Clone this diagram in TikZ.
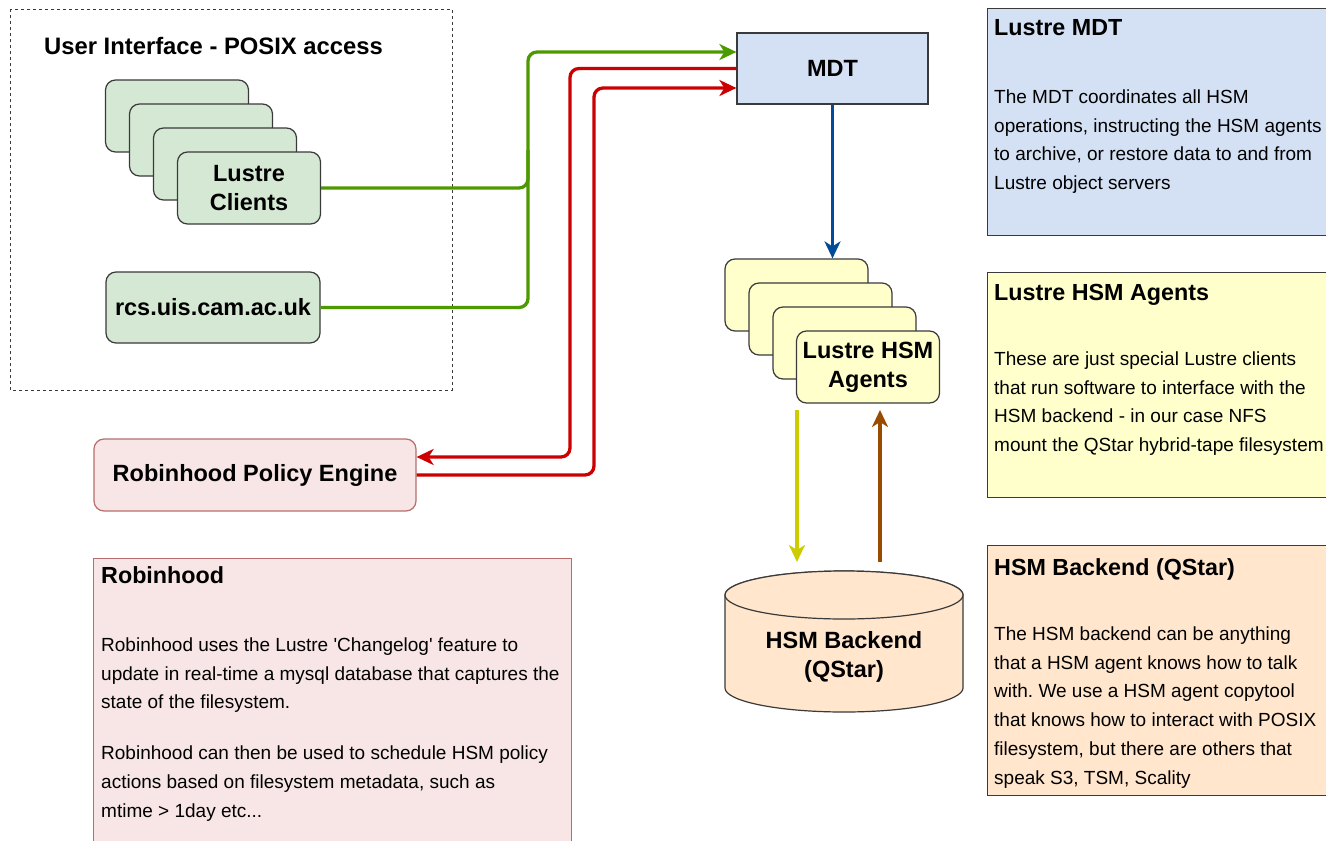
\documentclass[tikz,border=0pt]{standalone}
\usepackage{fontspec}
\setmainfont{Liberation Sans}
\usetikzlibrary{arrows.meta}
\definecolor{greenline}{HTML}{4D9900}
\definecolor{redline}{HTML}{CC0000}
\definecolor{blueline}{HTML}{004C99}
\definecolor{yellowline}{HTML}{CCCC00}
\definecolor{brownline}{HTML}{994C00}
\definecolor{greenfill}{HTML}{D5E8D4}
\definecolor{mdtfill}{HTML}{D4E1F5}
\definecolor{yellowfill}{HTML}{FFFFCC}
\definecolor{peachfill}{HTML}{FFE6CC}
\definecolor{pinkfill}{HTML}{F8E6E6}
\definecolor{pinkline}{HTML}{B86E6E}
\definecolor{edge}{HTML}{3A3A3A}
\newcommand\mybody{\fontsize{19}{28.8}\selectfont}
\newcommand\mybold{\fontsize{23.5}{29}\selectfont\bfseries}
\newcommand\myhead{\fontsize{23.3}{28}\selectfont\bfseries}
\newcommand\mytitle{\fontsize{23.8}{28}\selectfont\bfseries}
\frenchspacing
\begin{document}
\frenchspacing
\begin{tikzpicture}[x=1pt,y=-1pt,
  card/.style={draw=edge, line width=1.2pt, rounded corners=10pt, minimum width=143pt, minimum height=72pt, inner sep=0pt, align=center, font=\mybold},
  gcard/.style={card, fill=greenfill},
  ycard/.style={card, fill=yellowfill},
  pcard/.style={card, fill=pinkfill, draw=pinkline},
  desc/.style={draw=edge, line width=1.2pt, anchor=north west, minimum width=345pt, inner sep=0pt},
  head/.style={font=\myhead, anchor=base west, inner sep=0pt},
  body/.style={font=\mybody, anchor=north west, align=left, inner sep=0pt},
  conn/.style={draw=#1, line width=3.3pt, rounded corners=9pt},
  tip/.style={-{Stealth[length=17pt,width=16pt,inset=5pt]}},
]
\useasboundingbox (0,0) rectangle (1326,841);
\fill[white] (0,0) rectangle (1326,841);

% user interface group
\draw[edge, line width=1pt, dash pattern=on 3pt off 3pt] (10,9) rectangle (452,390);
\node[head, font=\mytitle] (uititle) at (44,54) {User Interface - POSIX access};

\node[gcard] (c1) at (177,116) {};
\node[gcard] (c2) at (201,140) {};
\node[gcard] (c3) at (225,164) {};
\node[gcard] (clients) at (249,188) {Lustre\\Clients};
\node[gcard, minimum width=214pt, minimum height=71pt] (rcs) at (213,307.5) {rcs.uis.cam.ac.uk};

% MDT
\node[draw=edge, fill=mdtfill, line width=1.2pt, minimum width=191pt, minimum height=71pt, font=\mybold] (mdt) at (832.5,68.5) {MDT};

% agents
\node[ycard] (a1) at (796.5,295) {};
\node[ycard] (a2) at (820.5,319) {};
\node[ycard] (a3) at (844.5,343) {};
\node[ycard] (agents) at (868,367) {Lustre HSM\\Agents};

% policy engine
\node[pcard, minimum width=322pt, minimum height=72pt] (policy) at (255,475) {Robinhood Policy Engine};

% backend cylinder
\draw[draw=edge, fill=peachfill, line width=1.2pt] (725,595) -- (725,688) arc[start angle=180, end angle=0, x radius=119, y radius=24] -- (963,595) arc[start angle=0, end angle=-180, x radius=119, y radius=24] -- cycle;
\draw[draw=edge, fill=peachfill, line width=1.2pt] (844,595) ellipse[x radius=119, y radius=24];
\node[font=\mybold, align=center] (backend) at (844,657) {HSM Backend\\(QStar)};
\coordinate (ytop) at (797,410);
\coordinate (ybot) at (797,562);
\coordinate (btop) at (880,410);
\coordinate (bbot) at (880,562);
\coordinate (gjoin) at (528,188);
\coordinate (gmid) at (528,150);
\coordinate (gtop) at (528,52);
\coordinate (r1) at (570,457);
\coordinate (r2) at (594,88);

% description boxes
\node[desc, fill=mdtfill, minimum height=227pt] (mdtdesc) at (987,8) {};
\node[head] (mdthead) at (994,35) {Lustre MDT};
\node[body] (mdtbody) at (994,83) {\rule{0pt}{20pt}The MDT coordinates all HSM\\operations, instructing the HSM agents\\to archive, or restore data to and from\\Lustre object servers};

\node[desc, fill=yellowfill, minimum height=225pt] (agdesc) at (987,272) {};
\node[head] (aghead) at (994,300) {Lustre HSM Agents};
\node[body] (agbody) at (994,345) {\rule{0pt}{20pt}These are just special Lustre clients\\that run software to interface with the\\HSM backend - in our case NFS\\mount the QStar hybrid-tape filesystem};

\node[desc, fill=peachfill, minimum height=250pt] (bkdesc) at (987,545) {};
\node[head] (bkhead) at (994,575) {HSM Backend (QStar)};
\node[body] (bkbody) at (994,620) {\rule{0pt}{20pt}The HSM backend can be anything\\that a HSM agent knows how to talk\\with. We use a HSM agent copytool\\that knows how to interact with POSIX\\filesystem, but there are others that\\speak S3, TSM, Scality};

\node[desc, fill=pinkfill, draw=pinkline, minimum width=478pt, minimum height=300pt] (rhdesc) at (93,558) {};
\node[head] (rhhead) at (101,583) {Robinhood};
\node[body] (rhbody) at (101,631) {\rule{0pt}{20pt}Robinhood uses the Lustre \textquotesingle Changelog\textquotesingle{} feature to\\update in real-time a mysql database that captures the\\state of the filesystem.\\[22pt]Robinhood can then be used to schedule HSM policy\\actions based on filesystem metadata, such as\\mtime > 1day etc...};

% connectors
\draw[conn=greenline] (rcs.east) -| (gmid);
\draw[conn=greenline, tip] (clients.east) -- (gjoin) |- (mdt.west |- gtop);
\draw[conn=redline, tip] (mdt.west) -| (r1) -- (policy.east |- r1);
\draw[conn=redline, tip] (policy.east) -| (r2) -- (mdt.west |- r2);
\draw[conn=blueline, tip] (mdt.south) -- (mdt.south |- a1.north);
\draw[conn=yellowline, tip] (ytop) -- (ybot);
\draw[conn=brownline, tip] (bbot) -- (btop);
\end{tikzpicture}
\end{document}
